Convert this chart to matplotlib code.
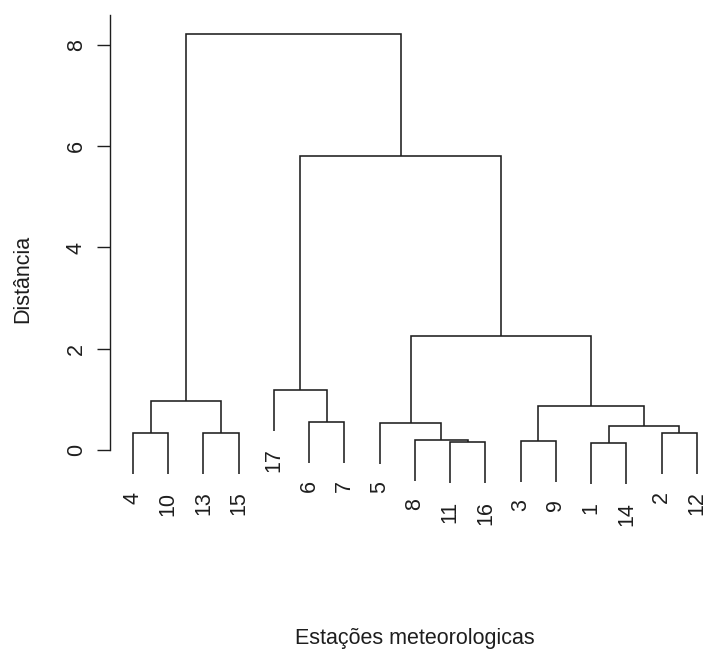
import matplotlib
matplotlib.use("Agg")
import matplotlib.pyplot as plt

plt.rcParams['font.family'] = ['Liberation Sans', 'DejaVu Sans']

# Leaf order along the x axis (station numbers)
leaf_order = [4, 10, 13, 15, 17, 6, 7, 5, 8, 11, 16, 3, 9, 1, 14, 2, 12]

# hclust-style merges: negative = leaf (station), positive = earlier merge (1-based)
merge_left = [-1, -11, -3, -8, -4, -13, -2, 1, -5, -6, 3, 5, -17, 9, 13, 12]
merge_right = [-14, -16, -9, 2, -10, -15, -12, 7, 4, -7, 8, 6, 10, 11, 14, 15]
merge_height = [0.13, 0.15, 0.18, 0.20, 0.33, 0.33, 0.34, 0.48, 0.54, 0.56,
                0.86, 0.97, 1.19, 2.25, 5.81, 8.22]

y_ticks = [0, 2, 4, 6, 8]
x_label = "Estações meteorologicas"
y_label = "Distância"

W, H, DPI = 704, 651, 100
fig = plt.figure(figsize=(W / DPI, H / DPI), dpi=DPI)

xlim = (0.36, 17.64)
ylim = (-1.2, 8.6)
px_per_unit = 50.625
left_px, right_px = 110.44, 719.56
top_px = 450 - ylim[1] * px_per_unit
bot_px = 450 - ylim[0] * px_per_unit
ax = fig.add_axes([left_px / W, 1 - bot_px / H,
                   (right_px - left_px) / W, (bot_px - top_px) / H])
ax.set_xlim(*xlim)
ax.set_ylim(*ylim)

col = '#1e1e1e'
lw = 1.15
hang = 0.1 * (max(merge_height) - min(merge_height))

pos = {leaf: i + 1 for i, leaf in enumerate(leaf_order)}
node_x = {}
node_y = {}
leaf_bottom = {}

def child(c, h):
    if c < 0:
        x = pos[-c]
        y = h - hang
        leaf_bottom[-c] = y
        return x, y
    return node_x[c], node_y[c]

for k, (l, r, h) in enumerate(zip(merge_left, merge_right, merge_height), start=1):
    xl, yl = child(l, h)
    xr, yr = child(r, h)
    ax.plot([xl, xl, xr, xr], [yl, h, h, yr], color=col, lw=lw,
            solid_joinstyle='miter', solid_capstyle='butt')
    node_x[k] = (xl + xr) / 2
    node_y[k] = h

for leaf in leaf_order:
    ax.annotate(str(leaf), xy=(pos[leaf], leaf_bottom[leaf]),
                xytext=(0, -12.5), textcoords='offset points',
                rotation=90, ha='center', va='top', fontsize=15.5, color=col)

for s in ['top', 'right', 'bottom']:
    ax.spines[s].set_visible(False)
ax.spines['left'].set_bounds(0, 8.6)
ax.spines['left'].set_color(col)
ax.spines['left'].set_linewidth(1.0)
ax.set_xticks([])
ax.set_yticks(y_ticks)
ax.set_yticklabels([str(t) for t in y_ticks], rotation=90, va='center')
ax.tick_params(axis='y', length=9.5, width=1.0, color=col, pad=7.5,
               labelsize=15.5, labelcolor=col)

fig.text(22.5 / W, 1 - 279 / H, y_label, rotation=90, ha='center', va='center',
         fontsize=15.5, color=col)
fig.text(414.7 / W, 1 - 644 / H, x_label, ha='center', va='baseline',
         fontsize=15.5, color=col)

fig.savefig("out.png", dpi=DPI, facecolor='white')
